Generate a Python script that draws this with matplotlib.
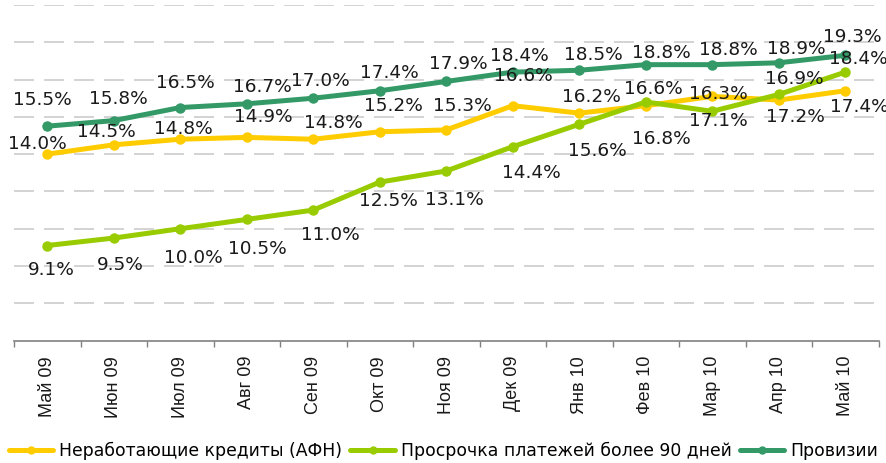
import matplotlib

matplotlib.use("Agg")
import matplotlib.pyplot as plt

months = ["Май 09", "Июн 09", "Июл 09", "Авг 09", "Сен 09", "Окт 09", "Ноя 09",
          "Дек 09", "Янв 10", "Фев 10", "Мар 10", "Апр 10", "Май 10"]

npl = [14.0, 14.5, 14.8, 14.9, 14.8, 15.2, 15.3, 16.6, 16.2, 16.6, 17.1, 16.9, 17.4]
overdue = [9.1, 9.5, 10.0, 10.5, 11.0, 12.5, 13.1, 14.4, 15.6, 16.8, 16.3, 17.2, 18.4]
provisions = [15.5, 15.8, 16.5, 16.7, 17.0, 17.4, 17.9, 18.4, 18.5, 18.8, 18.8, 18.9, 19.3]

series_names = ["Неработающие кредиты (АФН)", "Просрочка платежей более 90 дней", "Провизии"]

# label offsets in pixels (dx, dy) - where the original chart put each value label
npl_offsets = [(-10, 10), (-7, 13), (3, 10), (17, 20), (20, 16), (14, 26), (16, 24),
               (11, 30), (12, 16), (8, 17), (6, -25), (16, 21), (14, -16)]
overdue_offsets = [(4, -24), (7, -27), (13, -29), (11, -30), (17, -25), (9, -19), (8, -29),
                   (19, -26), (18, -27), (16, -37), (6, 17), (17, -23), (13, 13)]
prov_offsets = [(-5, 26), (5, 22), (5, 25), (16, 17), (7, 17), (10, 18), (12, 17),
                (7, 16), (14, 15), (16, 12), (16, 15), (18, 14), (7, 18)]

colors = ["#FFCC00", "#99CC00", "#339966"]

fig = plt.figure(figsize=(8.87, 4.63), dpi=100)
ax = fig.add_axes([14 / 887, (463 - 340.6) / 463, 864.5 / 887, 335.6 / 463])

x = list(range(len(months)))
for values, offsets, color, name in [(npl, npl_offsets, colors[0], series_names[0]),
                                     (overdue, overdue_offsets, colors[1], series_names[1]),
                                     (provisions, prov_offsets, colors[2], series_names[2])]:
    ax.plot(x, values, color=color, lw=3.6, marker="o", ms=6.5, label=name,
            solid_capstyle="round", zorder=3)
    for xi, v, (dx, dy) in zip(x, values, offsets):
        ax.annotate(f"{v:.1f}%", (xi, v), xytext=(dx, dy), textcoords="offset pixels",
                    ha="center", va="center", fontsize=13.3, color="#1a1a1a",
                    family="DejaVu Sans", zorder=4)

ax.set_xlim(-0.5, len(months) - 0.5)
ax.set_ylim(4, 22)
ax.set_yticks(range(6, 23, 2))
ax.yaxis.grid(True, color="#cccccc", lw=1.2, ls=(0, (12, 6)))
ax.tick_params(axis="y", left=False, labelleft=False)
ax.set_axisbelow(True)

ax.set_xticks(x)
ax.set_xticklabels(months, rotation=90, family="Liberation Sans", fontsize=13, color="#1a1a1a")
ax.set_xticks([i - 0.5 for i in range(len(months) + 1)], minor=True)
ax.tick_params(axis="x", which="major", length=0, pad=11)
ax.tick_params(axis="x", which="minor", length=4, color="#808080", width=1)

for side in ["top", "right", "left"]:
    ax.spines[side].set_visible(False)
ax.spines["bottom"].set_color("#808080")
ax.spines["bottom"].set_linewidth(1.2)

leg = fig.legend(loc="center", bbox_to_anchor=(0.5, 1 - 451 / 463), ncol=3, frameon=False,
                 prop={"family": "DejaVu Sans", "size": 12.4}, handlelength=2.6,
                 handletextpad=0.35, columnspacing=0.45, borderaxespad=0, borderpad=0)
for h in leg.legend_handles:
    h.set_markersize(5)

fig.savefig("out.png", dpi=100)
